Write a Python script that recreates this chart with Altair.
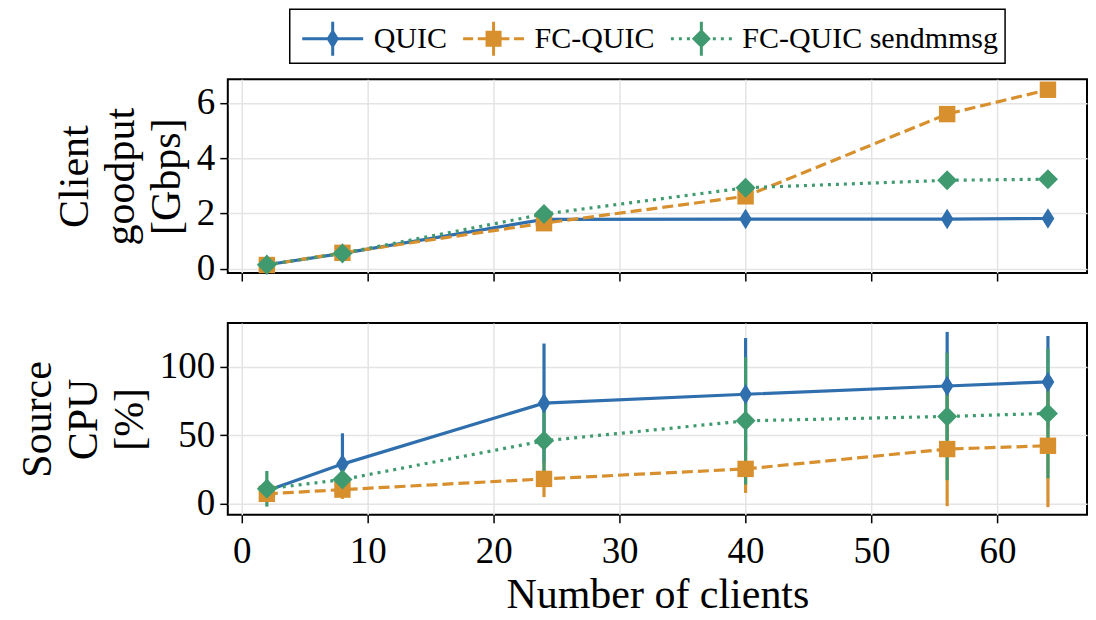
import altair as alt
import pandas as pd

# ---------------- data ----------------
clients = [2, 8, 24, 40, 56, 64]
series_names = ["QUIC", "FC-QUIC", "FC-QUIC sendmmsg"]

quic_goodput = [0.15, 0.56, 1.79, 1.80, 1.80, 1.82]
fc_goodput = [0.14, 0.58, 1.65, 2.62, 5.59, 6.47]
mmsg_goodput = [0.15, 0.56, 1.98, 2.93, 3.20, 3.24]

quic_cpu = [9.5, 29.0, 73.5, 80.0, 86.0, 89.0]
quic_cpu_std = [8.0, 22.5, 43.5, 41.0, 39.5, 33.5]
fc_cpu = [7.3, 10.4, 18.2, 25.5, 40.0, 42.4]
fc_cpu_std = [5.0, 6.8, 13.3, 17.5, 41.7, 44.8]
mmsg_cpu = [11.0, 17.7, 46.0, 60.6, 63.8, 66.0]
mmsg_cpu_std = [13.0, 9.0, 24.0, 46.5, 46.5, 47.3]

x_ticks = [0, 10, 20, 30, 40, 50, 60]
goodput_ticks = [0, 2, 4, 6]
cpu_ticks = [0, 50, 100]

# ---------------- table ----------------
rows = []
for name, gp, cpu, sd in zip(series_names,
                             [quic_goodput, fc_goodput, mmsg_goodput],
                             [quic_cpu, fc_cpu, mmsg_cpu],
                             [quic_cpu_std, fc_cpu_std, mmsg_cpu_std]):
    for c, g, p, s in zip(clients, gp, cpu, sd):
        rows.append({"series": name, "clients": c, "goodput": g,
                     "cpu": p, "cpu_lo": p - s, "cpu_hi": p + s})
df = pd.DataFrame(rows)

# ---------------- styles ----------------
FONT = "Liberation Serif"
colors = ["#2f6fad", "#d8902f", "#3f9a70"]
dashes = [None, [11, 5], [3, 5]]
marker_paths = ["M0,-1L0.62,0L0,1L-0.62,0Z",
                "M-1,-1L1,-1L1,1L-1,1Z",
                "M0,-1L1,0L0,1L-1,0Z"]
marker_sizes = [420, 270, 400]
LW = 3.2


def rect(x0, y0, x1, y1):
    return f"M{x0:.3f},{y0:.3f}L{x1:.3f},{y0:.3f}L{x1:.3f},{y1:.3f}L{x0:.3f},{y1:.3f}Z"


def dmd(w, h):
    return f"M0,{-h:.3f}L{w:.3f},0L0,{h:.3f}L{-w:.3f},0Z"


# legend glyphs (unit = 22 px): line + error bar + marker
U = 22.0
HW = 30.5 / U
LT = 1.5 / U
EB = 17 / U
solid = rect(-HW, -LT, HW, LT)
dashed = "".join(rect(a, -LT, b, LT) for a, b in
                 [(-HW, -0.93), (-0.72, -0.26), (0.26, 0.72), (0.93, HW)])
dot_w = 3 / U
dot_c = [1.318, 0.954, 0.59, 0.226]
dotted = "".join(rect(s * c - dot_w / 2, -LT, s * c + dot_w / 2, LT)
                 for c in dot_c for s in (-1, 1))
ebar = rect(-LT, -EB, LT, EB)
legend_paths = [solid + ebar + dmd(6.2 / U, 10 / U),
                dashed + ebar + rect(-8 / U, -8 / U, 8 / U, 8 / U),
                dotted + ebar + dmd(9.5 / U, 9.5 / U)]

W = 860


def x_enc(show_labels):
    return alt.X("clients:Q",
                 scale=alt.Scale(domain=[-1.1, 67.1], nice=False, zero=False),
                 axis=alt.Axis(values=x_ticks, labels=show_labels,
                               title="Number of clients" if show_labels else None,
                               labelFlush=False, format="d"))


y_top = alt.Y("goodput:Q",
              scale=alt.Scale(domain=[-0.15, 6.85], nice=False, zero=False),
              axis=alt.Axis(values=goodput_ticks, title=["Client", "goodput", "[Gbps]"],
                            format="d"))
y_bot_axis = alt.Axis(values=cpu_ticks, title=["Source", "CPU", "[%]"], format="d")
y_bot_scale = alt.Scale(domain=[-8, 132], nice=False, zero=False)

# ---------------- top panel ----------------
top_layers = []
for i, name in enumerate(series_names):
    base = alt.Chart(df).transform_filter(alt.datum.series == name)
    lk = dict(color=colors[i], strokeWidth=LW, clip=True)
    if dashes[i]:
        lk["strokeDash"] = dashes[i]
    top_layers.append(base.mark_line(**lk).encode(x=x_enc(False), y=y_top))
    top_layers.append(base.mark_point(filled=True, opacity=1, color=colors[i],
                                      shape=marker_paths[i], size=marker_sizes[i],
                                      strokeWidth=0)
                      .encode(x=x_enc(False), y=y_top))

legend = alt.Legend(title=None, orient="none", legendX=62, legendY=-70,
                    direction="horizontal", symbolSize=U * U * 4,
                    symbolStrokeWidth=0, symbolOpacity=1, symbolOffset=14,
                    labelFont=FONT, labelFontSize=30, labelColor="black",
                    labelLimit=0, labelOffset=19, columnPadding=10,
                    padding=7, strokeColor="black")
legend_layer = (alt.Chart(df).transform_filter("false")
                .mark_point(filled=True, opacity=1)
                .encode(x=x_enc(False), y=y_top,
                        color=alt.Color("series:N",
                                        scale=alt.Scale(domain=series_names, range=colors),
                                        legend=legend),
                        shape=alt.Shape("series:N",
                                        scale=alt.Scale(domain=series_names, range=legend_paths),
                                        legend=legend)))

top = alt.layer(*top_layers, legend_layer).properties(width=W, height=194)

# ---------------- bottom panel ----------------
bot_layers = []
for i, name in enumerate(series_names):
    base = alt.Chart(df).transform_filter(alt.datum.series == name)
    bot_layers.append(base.mark_rule(color=colors[i], strokeWidth=LW)
                      .encode(x=x_enc(True),
                              y=alt.Y("cpu_lo:Q", scale=y_bot_scale, axis=y_bot_axis),
                              y2="cpu_hi:Q"))
for i, name in enumerate(series_names):
    base = alt.Chart(df).transform_filter(alt.datum.series == name)
    lk = dict(color=colors[i], strokeWidth=LW, clip=True)
    if dashes[i]:
        lk["strokeDash"] = dashes[i]
    bot_layers.append(base.mark_line(**lk).encode(
        x=x_enc(True), y=alt.Y("cpu:Q", scale=y_bot_scale, axis=y_bot_axis)))
    bot_layers.append(base.mark_point(filled=True, opacity=1, color=colors[i],
                                      shape=marker_paths[i], size=marker_sizes[i],
                                      strokeWidth=0)
                      .encode(x=x_enc(True),
                              y=alt.Y("cpu:Q", scale=y_bot_scale, axis=y_bot_axis)))

bottom = alt.layer(*bot_layers).properties(width=W, height=192)

chart = (alt.vconcat(top, bottom, spacing=50, bounds="flush")
         .properties(padding={"left": 7, "top": 0, "right": 0, "bottom": 0})
         .configure(font=FONT)
         .configure_view(stroke="black", strokeWidth=2)
         .configure_axis(labelFont=FONT, titleFont=FONT, labelFontSize=37,
                         titleFontSize=42, titleFontWeight="normal",
                         labelColor="black", titleColor="black",
                         tickColor="black", tickWidth=1.5, tickSize=8,
                         gridColor="#e4e4e4", gridWidth=1.5, domain=False,
                         labelPadding=5, titlePadding=8, titleLineHeight=46)
         .configure_axisX(labelPadding=11, titlePadding=5)
         .configure_legend(strokeWidth=1.5, cornerRadius=0))

chart.save("out.html", embed_options={"renderer": "svg", "actions": False})
